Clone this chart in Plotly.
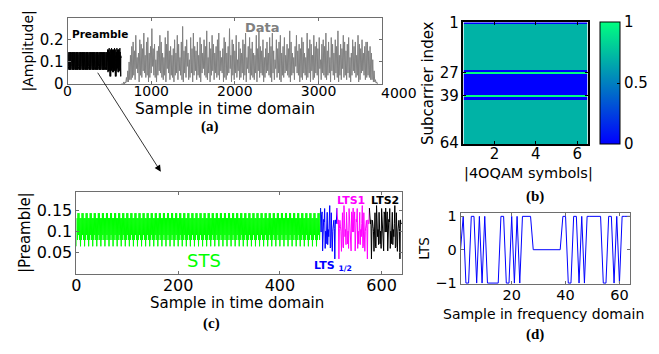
import plotly.graph_objects as go

W, H = 659, 354

# ---------------- data ----------------
# |STS| in time domain: one 8-sample period of the repeating pattern
STS_PERIOD = [0.065, 0.132, 0.080, 0.144, 0.092, 0.144, 0.080, 0.132]
STS_REPEATS = 60  # 480 samples

LTS_MAG = [0.156, 0.120, 0.118, 0.128, 0.035, 0.107, 0.127, 0.113, 0.101, 0.053,
           0.115, 0.145, 0.064, 0.061, 0.162, 0.119, 0.088, 0.105, 0.069, 0.146,
           0.123, 0.071, 0.101, 0.060, 0.155, 0.123, 0.129, 0.105, 0.054, 0.147,
           0.140, 0.099, 0.156, 0.099, 0.140, 0.147, 0.054, 0.105, 0.129, 0.123,
           0.155, 0.060, 0.101, 0.071, 0.123, 0.146, 0.069, 0.105, 0.088, 0.119,
           0.162, 0.061, 0.064, 0.145, 0.115, 0.053, 0.101, 0.113, 0.127, 0.107,
           0.035, 0.128, 0.118, 0.120]

# Data section of panel (a): alternating peak / trough amplitudes (every 8 samples)
DATA_START = 640
DATA_STEP = 8
DATA_PEAKS = [
    0.00, 0.00, 0.01, 0.01, 0.03, 0.06, 0.10, 0.13, 0.17,
    .19, .15, .22, .12, .14, .20, .18, .16, .23, .13, .19, .21, .14, .17, .25, .16,
    .18, .11, .15, .17, .22, .19, .14, .12, .21, .18, .24, .15, .17, .13, .16, .20,
    .14, .22, .18, .12, .19, .26, .15, .17, .20, .14, .11, .21, .16, .23, .17, .15,
    .19, .13, .21, .18, .14, .20, .17, .24, .12, .19, .16, .22, .18, .14, .17, .20,
    .23, .15, .12, .16, .21, .19, .14, .17, .25, .13, .20, .18, .15, .22, .11, .19,
    .16, .14, .20, .18, .23, .12, .17, .21, .16, .19, .14, .13, .22, .16, .24, .17,
    .15, .20, .12, .16, .19, .14, .21, .17, .23, .15, .11, .20, .16, .19, .22, .14,
    .17, .21, .13, .18, .16, .24, .19, .14, .12, .17, .22, .15, .18, .16, .21, .19,
    .14, .12, .23, .16, .20, .18, .13, .22, .17, .19, .16, .21, .11, .18, .20, .17,
    .23, .15, .19, .12, .21, .18, .14, .20, .17, .24, .13, .18, .16, .22, .19, .15,
    .18, .21, .12, .14, .20, .17, .19, .13, .22, .18, .16, .20, .14, .17, .19,
    .19, .15, .17, .14, .11, .06, .02, .01]
DATA_TROUGHS = [
    0.00, 0.00, 0.00, 0.005, 0.01, 0.01, 0.02, 0.02, 0.03,
    .04, .02, .07, .05, .01, .04, .03, .06, .05, .03, .04, .01, .03, .05, .08, .04,
    .03, .01, .04, .06, .05, .03, .02, .04, .01, .07, .05, .02, .04, .03, .01, .04,
    .05, .02, .06, .04, .02, .01, .05, .03, .08, .02, .03, .05, .01, .04, .06, .02,
    .04, .03, .01, .05, .07, .04, .03, .02, .05, .01, .04, .06, .02, .05, .03, .04,
    .02, .06, .05, .01, .03, .02, .04, .05, .07, .01, .04, .02, .05, .03, .06, .02,
    .03, .05, .02, .04, .01, .07, .05, .02, .04, .03, .02, .05, .01, .06, .03, .05,
    .04, .01, .03, .05, .06, .04, .03, .01, .05, .02, .07, .03, .05, .02, .01, .04,
    .03, .05, .06, .04, .03, .01, .04, .05, .02, .08, .05, .04, .01, .03, .02, .05,
    .04, .02, .03, .05, .01, .06, .02, .03, .05, .04, .01, .07, .02, .05, .04, .03,
    .02, .04, .05, .01, .06, .04, .02, .05, .03, .01, .04, .02, .07, .03, .04, .02,
    .05, .03, .01, .04, .06, .05, .03, .04, .01, .02, .05, .06, .04, .02, .03,
    .04, .03, .02, .02, .01, .01, .005, 0.00]

# Panel (b): |4QAM symbol| per subcarrier (rows 1..64), same for all 6 symbols
SUBCARRIER_MAG = ([0.0] + [0.7] * 24 + [0.0, 1.0] + [0.0] * 11 + [1.0, 0.0, 0.0]
                  + [0.7] * 23)
SYMBOLS = [1, 2, 3, 4, 5, 6]

# Panel (d): LTS in frequency domain (64 samples)
LTS_FREQ = [0, 1, -1, -1, 1, 1, -1, 1, -1, 1, -1, -1, -1, -1, -1, 1,
            1, -1, -1, 1, -1, 1, -1, 1, 1, 1, 1, 0, 0, 0, 0, 0,
            0, 0, 0, 0, 0, 0, 1, 1, -1, -1, 1, 1, -1, 1, -1, 1,
            1, 1, 1, 1, 1, -1, -1, 1, 1, -1, 1, -1, 1, 1, 1, 1]

# ---------------- derived sequences ----------------
sts = STS_PERIOD * STS_REPEATS
n_sts = len(sts)
lts_cp = LTS_MAG[32:]
preamble = sts + lts_cp + LTS_MAG + LTS_MAG
pre_x = list(range(len(preamble)))

data_y = []
for p, t in zip(DATA_PEAKS, DATA_TROUGHS):
    data_y += [p, t]
data_x = [DATA_START + DATA_STEP * i for i in range(len(data_y))]

# ---------------- helpers ----------------
def px(x):
    return x / W

def py(y):
    return 1 - y / H

FONT = "DejaVu Sans"
AX_GRAY = "rgb(110,110,110)"

fig = go.Figure()

# (a)
fig.add_trace(go.Scatter(x=pre_x, y=preamble, mode="lines",
                         line=dict(color="black", width=1), xaxis="x", yaxis="y",
                         showlegend=False))
fig.add_trace(go.Scatter(x=data_x, y=data_y, mode="lines",
                         line=dict(color="rgb(128,128,128)", width=1), xaxis="x", yaxis="y",
                         showlegend=False))

# (b)
z = [[v] * len(SYMBOLS) for v in SUBCARRIER_MAG]
fig.add_trace(go.Heatmap(z=z, x=SYMBOLS, y=list(range(1, 65)), xaxis="x2", yaxis="y2",
                         zmin=0, zmax=1,
                         colorscale=[[0, "rgb(0,0,255)"], [1, "rgb(0,255,128)"]],
                         colorbar=dict(x=px(600), xanchor="left", y=py(79), yanchor="middle",
                                       len=128 / H, lenmode="fraction",
                                       thickness=20, thicknessmode="pixels",
                                       outlinecolor="black", outlinewidth=1,
                                       tickvals=[0, 0.5, 1], ticktext=["0", "0.5", "1"],
                                       ticks="inside", ticklen=3, tickcolor="black",
                                       tickfont=dict(family=FONT, size=15, color="black"),
                                       xpad=0, ypad=0),
                         showscale=True, hoverinfo="skip"))

# (c)
fig.add_trace(go.Scatter(x=pre_x[0:n_sts + 1], y=preamble[0:n_sts + 1], mode="lines",
                         line=dict(color="rgb(0,255,0)", width=1), xaxis="x3", yaxis="y3",
                         showlegend=False))
a, b = n_sts, n_sts + 32
fig.add_trace(go.Scatter(x=pre_x[a:b + 1], y=preamble[a:b + 1], mode="lines",
                         line=dict(color="rgb(0,0,255)", width=1), xaxis="x3", yaxis="y3",
                         showlegend=False))
a, b = n_sts + 32, n_sts + 96
fig.add_trace(go.Scatter(x=pre_x[a:b + 1], y=preamble[a:b + 1], mode="lines",
                         line=dict(color="rgb(255,0,255)", width=1), xaxis="x3", yaxis="y3",
                         showlegend=False))
a, b = n_sts + 96, len(preamble)
fig.add_trace(go.Scatter(x=pre_x[a:b], y=preamble[a:b], mode="lines",
                         line=dict(color="black", width=1), xaxis="x3", yaxis="y3",
                         showlegend=False))

# (d)
fig.add_trace(go.Scatter(x=list(range(1, 65)), y=LTS_FREQ, mode="lines",
                         line=dict(color="rgb(0,0,255)", width=1), xaxis="x4", yaxis="y4",
                         showlegend=False))


def axis(domain, rng, tickvals, fsize, anchor, title=None, tsize=None, standoff=2,
         color=AX_GRAY, lw=1, ticktext=None, lso=0):
    d = dict(domain=domain, range=rng, tickvals=tickvals, showgrid=False, zeroline=False,
             showline=True, linecolor=color, linewidth=lw, mirror="ticks",
             ticks="inside", ticklen=3, tickcolor=color,
             tickfont=dict(family=FONT, size=fsize, color="black"),
             anchor=anchor, fixedrange=True, ticklabelstandoff=lso)
    if ticktext is not None:
        d["ticktext"] = ticktext
    if title:
        d["title"] = dict(text=title, font=dict(family=FONT, size=tsize, color="black"),
                          standoff=standoff)
    return d


layout = dict(
    width=W, height=H, margin=dict(l=0, r=0, t=0, b=0),
    paper_bgcolor="white", plot_bgcolor="white",
    xaxis=axis([px(63), px(380)], [0, 3760], [0, 1000, 2000, 3000], 14, "y", lso=-6),
    yaxis=axis([py(80), py(10)], [0, 0.3], [0, 0.1, 0.2], 15, "x",
               "|Amplitude|", 14, ticktext=["0", "0.1", "0.2"]),
    xaxis2=axis([px(462), px(587)], [0.5, 6.5], [2, 4, 6], 15, "y2",
                color="black", lw=1.5, lso=-5),
    yaxis2=axis([py(143), py(15)], [64.5, 0.5], [1, 27, 39, 64], 15, "x2",
                "Subcarrier index", 15, color="black", lw=1.5),
    xaxis3=axis([px(72), px(400)], [0, 640], [0, 200, 400, 600], 16, "y3", lso=-3),
    yaxis3=axis([py(279), py(193)], [0, 0.195], [0.05, 0.1, 0.15], 16, "x3",
                "|Preamble|", 15, ticktext=["0.05", "0.1", "0.15"]),
    xaxis4=axis([px(459), px(630)], [1, 64], [20, 40, 60], 14.5, "y4", lso=-2),
    yaxis4=axis([py(290), py(215)], [-1.03, 1.11], [-1, 0, 1], 14.5, "x4",
                "LTS", 13.5),
)

ann = []

def label(text, x, y, size, color="black", bold=False, family=FONT):
    t = f"<b>{text}</b>" if bold else text
    ann.append(dict(text=t, x=px(x), y=py(y), xref="paper", yref="paper",
                    showarrow=False, xanchor="center", yanchor="middle",
                    font=dict(family=family, size=size, color=color)))

# x-axis titles
label("Sample in time domain", 222, 106, 15.5)
label("|4OQAM symbols|", 528, 174, 14.5)
label("Sample in time domain", 234, 310, 15)
label("Sample in frequency domain", 543, 321, 14)

label("Preamble", 96, 27, 10.5, bold=True)
label("Data", 259, 20, 13, color="rgb(128,128,128)", bold=True)
label("4000", 397, 89, 14)
label("(a)", 207, 124, 15, bold=True, family="Liberation Serif")
label("(b)", 534, 198, 15, bold=True, family="Liberation Serif")
label("(c)", 208, 331, 15, bold=True, family="Liberation Serif")
label("(d)", 534, 343, 15, bold=True, family="Liberation Serif")
label("STS", 201, 265, 18, color="rgb(0,255,0)")
label("LTS1", 349, 202, 11, color="rgb(255,0,255)", bold=True)
label("LTS2", 383, 202, 11, color="black", bold=True)
label("LTS <sub>1/2</sub>", 331, 271, 11, color="rgb(0,0,255)", bold=True)

# arrow from panel (a) preamble to panel (c)
ann.append(dict(text=" ", x=px(157), y=py(172), xref="paper", yref="paper",
                ax=92 - 157, ay=70 - 172, axref="pixel", ayref="pixel",
                showarrow=True, arrowhead=2, arrowsize=1.6, arrowwidth=0.8,
                arrowcolor="black", font=dict(size=2)))

layout["annotations"] = ann
fig.update_layout(**layout)
fig.write_html("out.html")
